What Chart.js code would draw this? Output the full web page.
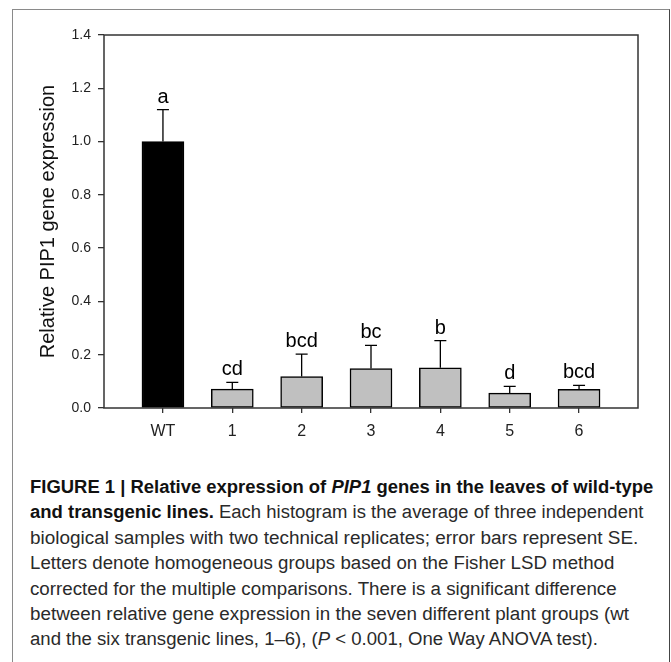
<!DOCTYPE html>
<html lang="en">
<head>
    <meta charset="UTF-8">
    <title>Relative expression of PIP1 genes</title>
    <script src="https://cdn.jsdelivr.net/npm/chart.js"></script>
    <style>
        body {
            margin: 0;
            background: #fff;
        }
        #figure {
            position: relative;
            width: 671px;
            height: 662px;
            overflow: hidden;
        }
        #frame {
            position: absolute;
            left: 12px;
            top: 9px;
            width: 656px;
            height: 720px;
            border: 1.5px solid #8a8a8a;
            border-right-color: #444;
        }
        #chart-box {
            position: absolute;
            left: 0;
            top: 0;
        }
        #caption {
            position: absolute;
            left: 30px;
            top: 475px;
            font-family: "Liberation Sans", Arial, sans-serif;
            font-size: 18px;
            color: #2a2a2a;
        }
        #caption .line {
            width: max-content;
            white-space: nowrap;
            line-height: 25.4px;
            height: 25.4px;
            transform-origin: 0 0;
        }
        #caption b {
            color: #111;
        }
    </style>
</head>
<body>
<div id="figure">
    <div id="frame"></div>
    <div id="chart-box">
        <canvas id="expression-chart" width="671" height="455"></canvas>
    </div>
    <!-- caption lines, data-w = width of each line in the figure -->
    <div id="caption">
        <div class="line" data-w="623"><b>FIGURE 1 | Relative expression of <i>PIP1</i> genes in the leaves of wild-type</b></div>
        <div class="line" data-w="613"><b>and transgenic lines.</b> Each histogram is the average of three independent</div>
        <div class="line" data-w="608">biological samples with two technical replicates; error bars represent SE.</div>
        <div class="line" data-w="584">Letters denote homogeneous groups based on the Fisher LSD method</div>
        <div class="line" data-w="587">corrected for the multiple comparisons. There is a significant difference</div>
        <div class="line" data-w="599">between relative gene expression in the seven different plant groups (wt</div>
        <div class="line" data-w="568">and the six transgenic lines, 1–6), (<i>P</i> &lt; 0.001, One Way ANOVA test).</div>
    </div>
</div>

<script>
    // data
    const groups = ['WT', '1', '2', '3', '4', '5', '6'];
    const expression = [1.0, 0.071, 0.118, 0.148, 0.151, 0.056, 0.070];
    const stdError = [0.12, 0.025, 0.084, 0.087, 0.102, 0.025, 0.015];
    const groupLetters = ['a', 'cd', 'bcd', 'bc', 'b', 'd', 'bcd'];
    const barColors = ['#000000', '#c0c0c0', '#c0c0c0', '#c0c0c0', '#c0c0c0', '#c0c0c0', '#c0c0c0'];

    const FONT = '"Liberation Sans", Arial, sans-serif';

    // error bars (upper half only), group letters and the plot frame
    const errorBarPlugin = {
        id: 'errorBars',
        afterDatasetsDraw(chart) {
            const ctx = chart.ctx;
            const x = chart.scales.x;
            const y = chart.scales.y;
            const area = chart.chartArea;
            ctx.save();
            ctx.strokeStyle = '#000';
            ctx.lineWidth = 1.3;
            ctx.fillStyle = '#000';
            ctx.font = '20px ' + FONT;
            ctx.textAlign = 'center';
            ctx.textBaseline = 'alphabetic';
            expression.forEach((v, i) => {
                const px = x.getPixelForValue(i);
                const y0 = y.getPixelForValue(v);
                const y1 = y.getPixelForValue(v + stdError[i]);
                ctx.beginPath();
                ctx.moveTo(px, y0);
                ctx.lineTo(px, y1);
                ctx.moveTo(px - 6, y1);
                ctx.lineTo(px + 6, y1);
                ctx.stroke();
                ctx.fillText(groupLetters[i], px, y1 - 7);
            });
            ctx.strokeStyle = '#333';
            ctx.lineWidth = 1.5;
            ctx.strokeRect(area.left, area.top, area.right - area.left, area.bottom - area.top);
            ctx.restore();
        }
    };

    const ctx = document.getElementById('expression-chart').getContext('2d');
    new Chart(ctx, {
        type: 'bar',
        data: {
            datasets: [{
                data: expression.map((v, i) => ({ x: i, y: v })),
                backgroundColor: barColors,
                borderColor: '#000',
                borderWidth: 1.5,
                borderSkipped: false,
                barThickness: 42
            }]
        },
        options: {
            responsive: false,
            animation: false,
            layout: {
                padding: { top: 35, right: 33, bottom: 0, left: 0 }
            },
            plugins: {
                legend: { display: false },
                tooltip: { enabled: false }
            },
            scales: {
                x: {
                    type: 'linear',
                    min: -0.85,
                    max: 6.85,
                    offset: false,
                    afterBuildTicks: scale => {
                        scale.ticks = groups.map((g, i) => ({ value: i }));
                    },
                    afterFit: scale => { scale.height = 47; },
                    ticks: {
                        callback: v => groups[v],
                        font: { family: FONT, size: 16 },
                        color: '#222',
                        padding: 9,
                        maxRotation: 0
                    },
                    grid: {
                        drawOnChartArea: false,
                        offset: false,
                        tickLength: 5,
                        color: '#333',
                        lineWidth: 1.3
                    },
                    border: { display: false }
                },
                y: {
                    min: 0,
                    max: 1.4,
                    afterFit: scale => { scale.width = 104; },
                    ticks: {
                        stepSize: 0.2,
                        callback: v => v.toFixed(1),
                        font: { family: FONT, size: 14 },
                        color: '#222',
                        padding: 7
                    },
                    grid: {
                        drawOnChartArea: false,
                        tickLength: 6,
                        color: '#333',
                        lineWidth: 1.3
                    },
                    border: { display: false },
                    title: {
                        display: true,
                        text: 'Relative PIP1 gene expression',
                        font: { family: FONT, size: 20 },
                        color: '#111',
                        padding: { top: 36.8, bottom: 0 }
                    }
                }
            }
        },
        plugins: [errorBarPlugin]
    });

    // fit each caption line to its width in the figure
    document.querySelectorAll('#caption .line').forEach(line => {
        const target = parseFloat(line.dataset.w);
        line.style.transform = 'scaleX(' + (target / line.offsetWidth) + ')';
    });
</script>
</body>
</html>
